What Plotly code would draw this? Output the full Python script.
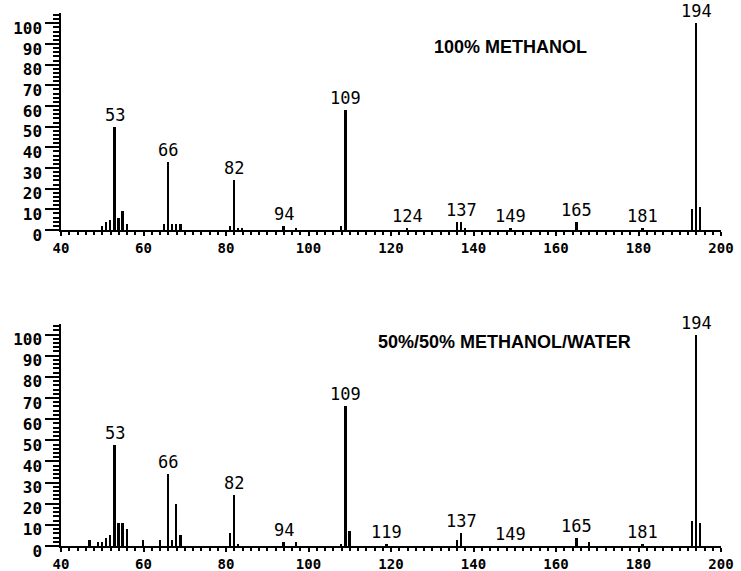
import plotly.graph_objects as go

# ---- data (m/z, relative intensity %) ----
top_mz = [50, 51, 52, 53, 54, 55, 56, 65, 66, 67, 68, 69, 81, 82, 83, 84, 94, 97,
          108, 109, 124, 136, 137, 138, 149, 165, 181, 193, 194, 195]
top_int = [2, 4, 5, 50, 6, 9, 3, 3, 33, 3, 3, 3, 2, 24, 1, 1, 2, 1,
           2, 58, 1, 4, 4, 1, 1, 4, 1, 10, 100, 11]

bot_mz = [47, 49, 50, 51, 52, 53, 54, 55, 56, 60, 64, 66, 67, 68, 69, 81, 82, 83,
          94, 97, 108, 109, 110, 119, 136, 137, 165, 168, 181, 193, 194, 195]
bot_int = [3, 2, 2, 4, 5, 48, 11, 11, 8, 3, 3, 34, 3, 20, 5, 6, 24, 1,
           2, 2, 1, 66, 7, 1, 3, 6, 4, 2, 1, 12, 100, 11]

top_labels = [53, 66, 82, 94, 109, 124, 137, 149, 165, 181, 194]
bot_labels = [53, 66, 82, 94, 109, 119, 137, 149, 165, 181, 194]

top_title = "100% METHANOL"
bot_title = "50%/50% METHANOL/WATER"

x_ticks = list(range(40, 201, 20))
y_ticks = list(range(0, 101, 10))

MONO = "DejaVu Sans Mono"

fig = go.Figure()
fig.add_trace(go.Bar(x=top_mz, y=top_int, xaxis="x", yaxis="y", width=0.45,
                     marker=dict(color="black", line=dict(width=0)), showlegend=False))
fig.add_trace(go.Bar(x=bot_mz, y=bot_int, xaxis="x2", yaxis="y2", width=0.45,
                     marker=dict(color="black", line=dict(width=0)), showlegend=False))


def xax(anchor):
    return dict(domain=[0, 1], range=[40, 200], anchor=anchor, tickmode="array",
                tickvals=x_ticks, ticks="outside", ticklen=4, tickwidth=1.5,
                tickcolor="black", minor=dict(dtick=2, tick0=40, ticks="outside",
                                              ticklen=3, tickcolor="black"),
                showline=True, linewidth=2, linecolor="black", showgrid=False,
                zeroline=False, automargin=False,
                tickfont=dict(family=MONO, size=14, color="black", weight="bold"))


def yax(anchor, domain):
    return dict(domain=domain, range=[0, 105], anchor=anchor, tickmode="array",
                tickvals=y_ticks, ticks="outside", ticklen=14, tickwidth=1.5,
                tickcolor="black", minor=dict(dtick=2, tick0=0, ticks="outside",
                                              ticklen=6, tickcolor="black"),
                showline=True, linewidth=1.5, linecolor="black", showgrid=False,
                zeroline=False, automargin=False, ticklabelshift=5,
                tickfont=dict(family=MONO, size=16, color="black", weight="bold"))


fig.update_layout(
    width=741, height=571,
    margin=dict(l=61, r=20, t=13, b=25),
    paper_bgcolor="white", plot_bgcolor="white",
    bargap=0,
    xaxis=xax("y"), yaxis=yax("x", [0.5929, 1]),
    xaxis2=xax("y2"), yaxis2=yax("x2", [0, 0.4165]),
)

annotations = []
for labels, mz, inten, xr, yr in [(top_labels, top_mz, top_int, "x", "y"),
                                  (bot_labels, bot_mz, bot_int, "x2", "y2")]:
    lookup = dict(zip(mz, inten))
    for m in labels:
        annotations.append(dict(x=m, y=lookup.get(m, 0), xref=xr, yref=yr,
                                text=str(m), showarrow=False, yanchor="bottom",
                                yshift=1, borderpad=0,
                                font=dict(family=MONO, size=17, color="black")))

annotations.append(dict(x=149, y=88.5, xref="x", yref="y", text=top_title,
                        showarrow=False, font=dict(family="Liberation Sans", size=18,
                                                   color="black", weight="bold")))
annotations.append(dict(x=147.5, y=96.6, xref="x2", yref="y2", text=bot_title,
                        showarrow=False, font=dict(family="Liberation Sans", size=18,
                                                   color="black", weight="bold")))
fig.update_layout(annotations=annotations)

fig.write_html("out.html")
